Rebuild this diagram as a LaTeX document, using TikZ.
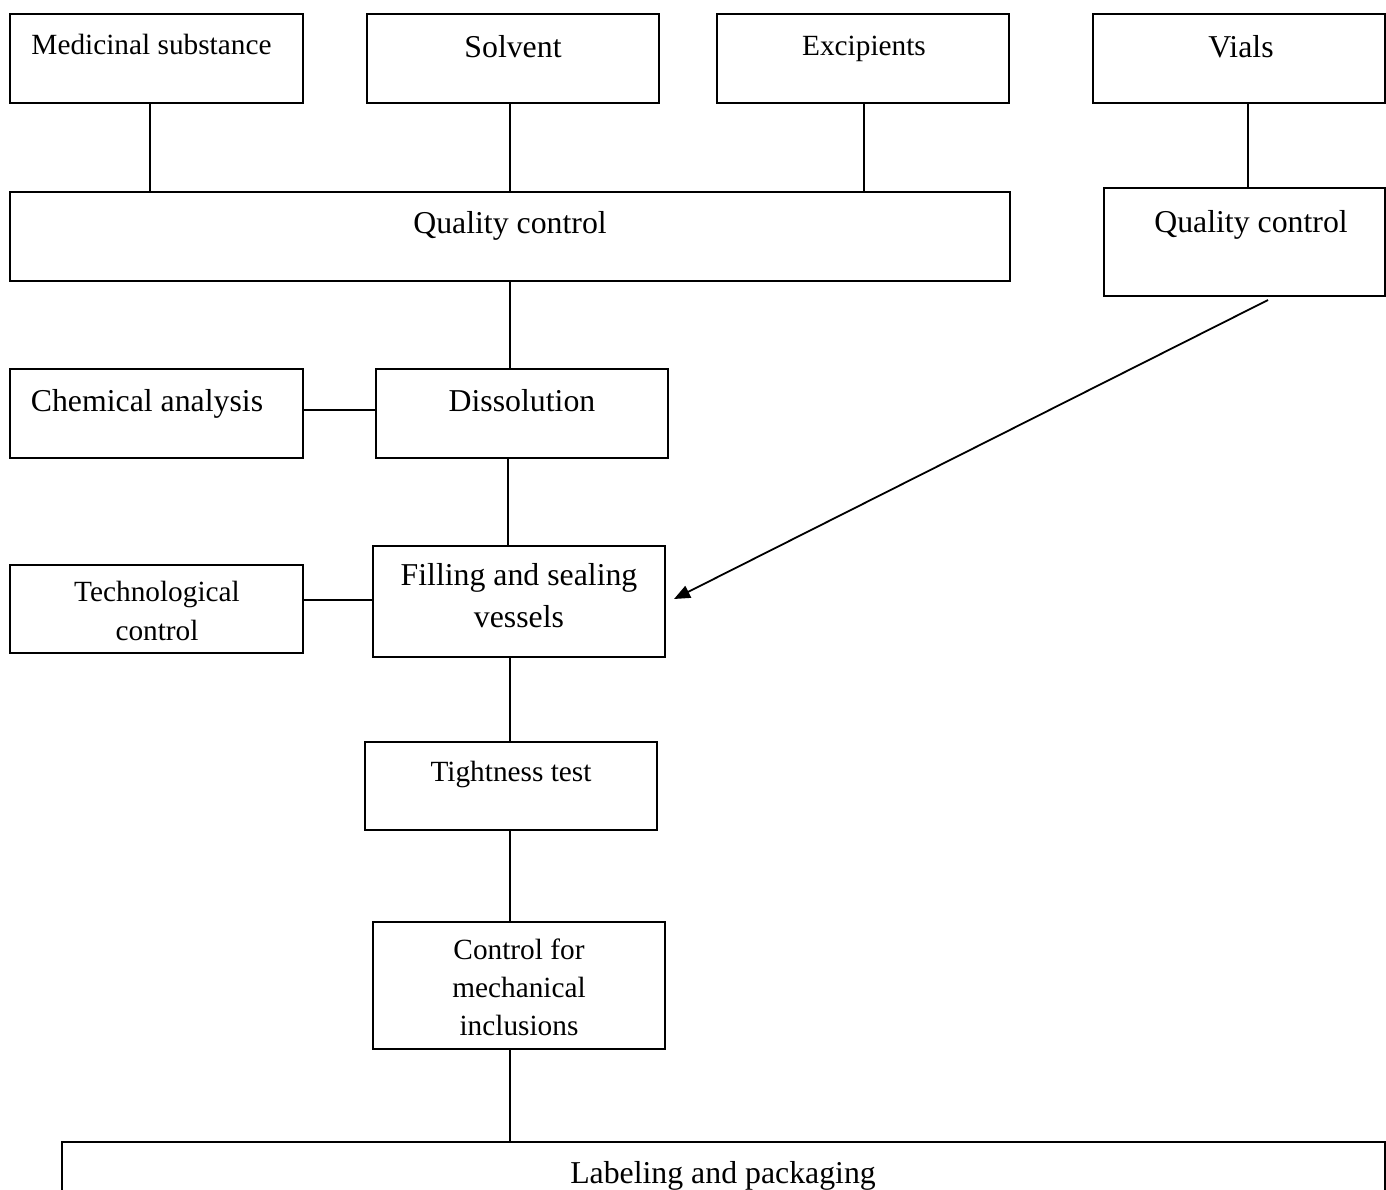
\documentclass[tikz,border=0pt]{standalone}
\usepackage{fontspec}
\setmainfont{Liberation Serif}
\usetikzlibrary{arrows.meta,calc}
\begin{document}
\begin{tikzpicture}[x=1pt,y=-1pt,
  box/.style={draw, line width=1.5pt, inner sep=0pt, outer sep=0pt, anchor=north west},
  bigt/.style={font=\fontsize{31.8}{38}\selectfont, anchor=base, inner sep=0pt, align=center},
  smallt/.style={font=\fontsize{29.3}{38}\selectfont, anchor=base, inner sep=0pt, align=center},
  link/.style={line width=1.3pt},
  arrowlink/.style={line width=1.8pt, -{Triangle[length=16pt,width=13pt]}}]
\useasboundingbox (0,0) rectangle (1386,1189);
\clip (0,0) rectangle (1386,1189);

% boxes
\node[box, minimum width=293pt, minimum height=89pt] (ms) at (10,14) {};
\node[box, minimum width=292pt, minimum height=89pt] (sol) at (367,14) {};
\node[box, minimum width=292pt, minimum height=89pt] (exc) at (717,14) {};
\node[box, minimum width=292pt, minimum height=89pt] (vials) at (1093,14) {};
\node[box, minimum width=1000pt, minimum height=89pt] (qc) at (10,192) {};
\node[box, minimum width=281pt, minimum height=108pt] (qcr) at (1104,188) {};
\node[box, minimum width=293pt, minimum height=89pt] (chem) at (10,369) {};
\node[box, minimum width=292pt, minimum height=89pt] (diss) at (376,369) {};
\node[box, minimum width=293pt, minimum height=88pt] (tech) at (10,565) {};
\node[box, minimum width=292pt, minimum height=111pt] (fill) at (373,546) {};
\node[box, minimum width=292pt, minimum height=88pt] (tight) at (365,742) {};
\node[box, minimum width=292pt, minimum height=127pt] (mech) at (373,922) {};
\node[box, minimum width=1323pt, minimum height=100pt] (lab) at (62,1142) {};

% texts
\node[smallt] (mst) at (151.5,54) {Medicinal substance};
\node[bigt] (solt) at (513,57) {Solvent};
\node[smallt] (exct) at (864,55) {Excipients};
\node[bigt] (vialst) at (1241,57) {Vials};
\node[bigt] (qct) at (510,233) {Quality control};
\node[bigt] (qcrt) at (1251,232) {Quality control};
\node[bigt] (chemt) at (147,411) {Chemical analysis};
\node[bigt] (disst) at (522,411) {Dissolution};
\node[smallt, font=\fontsize{29.3}{39.3}\selectfont] (techt) at (157,640.5) {Technological\\control};
\node[bigt, font=\fontsize{31.8}{42}\selectfont] (fillt) at (519,627.5) {Filling and sealing\\vessels};
\node[smallt] (tightt) at (511,781) {Tightness test};
\node[smallt, font=\fontsize{29.3}{38}\selectfont] (mecht) at (519,1035) {Control for\\mechanical\\inclusions};
\node[bigt] (labt) at (723,1183) {Labeling and packaging};

% connectors
\draw[link] ([xshift=-6.5pt]ms.south) -- ([xshift=-6.5pt]ms.south |- qc.north);
\draw[link] ([xshift=-3pt]sol.south) -- ([xshift=-3pt]sol.south |- qc.north);
\draw[link] ([xshift=1pt]exc.south) -- ([xshift=1pt]exc.south |- qc.north);
\draw[link] ([xshift=9pt]vials.south) -- ([xshift=9pt]vials.south |- qcr.north);
\draw[link] (qc.south) -- (qc.south |- diss.north);
\draw[link] (chem.east |- 0,410) -- (diss.west |- 0,410);
\draw[link] ([xshift=-14pt]diss.south) -- ([xshift=-14pt]diss.south |- fill.north);
\draw[link] (tech.east |- 0,600) -- (fill.west |- 0,600);
\draw[link] ([xshift=-9pt]fill.south) -- ([xshift=-9pt]fill.south |- tight.north);
\draw[link] ([xshift=-1pt]tight.south) -- ([xshift=-1pt]tight.south |- mech.north);
\draw[link] ([xshift=-9pt]mech.south) -- ([xshift=-9pt]mech.south |- lab.north);

\coordinate (arrS) at (1268,300);
\coordinate (arrE) at (674,599);
\draw[arrowlink] (arrS) -- (arrE);
\end{tikzpicture}
\end{document}
